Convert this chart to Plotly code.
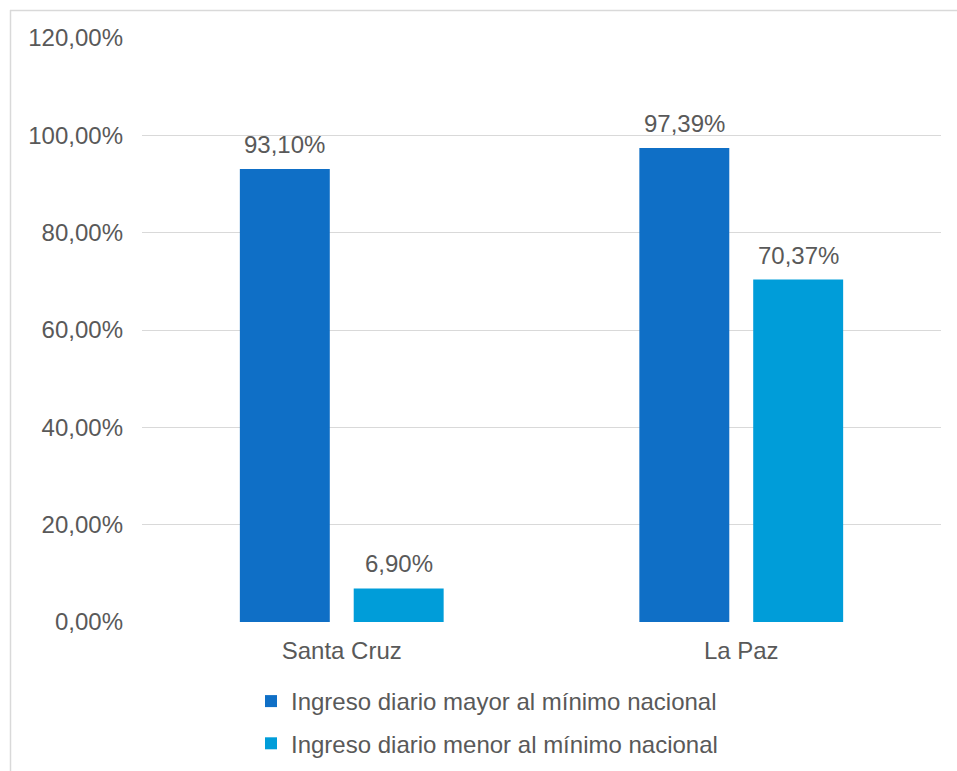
import plotly.graph_objects as go

categories = ["Santa Cruz", "La Paz"]
series_names = ["Ingreso diario mayor al mínimo nacional",
                "Ingreso diario menor al mínimo nacional"]
mayor = [93.10, 97.39]
menor = [6.90, 70.37]
series_values = [mayor, menor]
colors = ["#0F6FC6", "#009DD9"]
y_ticks = [0, 20, 40, 60, 80, 100, 120]
y_tick_labels = ["0,00%", "20,00%", "40,00%", "60,00%", "80,00%", "100,00%", "120,00%"]

W, H = 957, 771
ML, MR, MT, MB = 142, 16, 38, 149
PW, PH = W - ML - MR, H - MT - MB
def px_x(p): return (p - ML) / PW
def px_y(p): return 1 - (p - MT) / PH

TXT = "#595959"
FONT = "Liberation Sans, Arial, sans-serif"
BARGAP = 0.43

fig = go.Figure()
for name, vals, col in zip(series_names, series_values, colors):
    fig.add_trace(go.Bar(x=categories, y=vals, name=name, marker=dict(color=col, line=dict(width=0)),
                         legendgroup=name))

# value labels
n = len(series_values)
slot = (1 - BARGAP) / n
for k, vals in enumerate(series_values):
    off = -(1 - BARGAP) / 2 + slot * (k + 0.5)
    for i, v in enumerate(vals):
        fig.add_annotation(x=i + off, y=v, xref="x", yref="y",
                           text=f"{v:.2f}".replace(".", ",") + "%",
                           showarrow=False, yanchor="bottom", yshift=9,
                           font=dict(size=24, color=TXT, family=FONT))

fig.update_layout(
    width=W, height=H,
    margin=dict(l=ML, r=MR, t=MT, b=MB, autoexpand=False),
    paper_bgcolor="white", plot_bgcolor="white",
    barmode="group", bargap=BARGAP, bargroupgap=0.21,
    font=dict(family=FONT, size=24, color=TXT),
    separators=",.",
    showlegend=True,
    legend=dict(orientation="v", x=px_x(251), y=px_y(679), xanchor="left", yanchor="top",
                font=dict(size=24, color=TXT), tracegroupgap=8, bgcolor="rgba(0,0,0,0)"),
    xaxis=dict(showgrid=False, showline=False, zeroline=False, ticks="", ticklabelstandoff=12,
               tickfont=dict(size=24, color=TXT)),
    yaxis=dict(range=[0, 120], tickvals=y_ticks, ticktext=y_tick_labels,
               showgrid=True, gridcolor="#d9d9d9", gridwidth=1, zeroline=False, showline=False,
               ticks="", ticklabelstandoff=18, tickfont=dict(size=24, color=TXT)),
    shapes=[
        dict(type="line", xref="paper", yref="paper", x0=px_x(10.5), x1=px_x(10.5), y0=px_y(10), y1=px_y(780),
             line=dict(color="#d9d9d9", width=1.5)),
        dict(type="line", xref="paper", yref="paper", x0=px_x(10), x1=px_x(957), y0=px_y(10.5), y1=px_y(10.5),
             line=dict(color="#d9d9d9", width=1.5)),
    ],
)

fig.write_html("out.html")
